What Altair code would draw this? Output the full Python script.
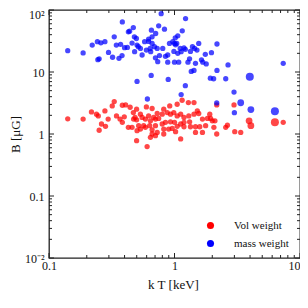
import altair as alt
import pandas as pd

# ---- data (kT in keV, B in microGauss) ----
vol_kT = [0.141, 0.187, 0.218, 0.239, 0.247, 0.279, 0.296, 0.262, 0.282, 0.251,
          0.319, 0.331, 0.345, 0.368, 0.384, 0.398, 0.384, 0.408, 0.443, 0.429,
          0.470, 0.485, 0.499, 0.499, 0.499, 0.605, 0.597, 0.663, 0.728, 0.821,
          0.916, 1.05, 1.15, 1.29, 1.43, 1.52, 1.56, 1.91, 0.535, 0.552,
          0.586, 0.622, 0.643, 0.682, 0.705, 0.748, 0.798, 0.875, 0.929, 0.987,
          1.05, 1.12, 1.19, 1.30, 1.43, 0.472, 0.518, 0.568, 0.634, 0.705,
          0.798, 0.847, 0.929, 1.00, 1.12, 1.19, 1.32, 1.67, 1.83, 1.94,
          2.10, 0.663, 0.728, 0.821, 0.899, 0.959, 1.02, 1.05, 1.19, 1.34,
          1.47, 1.59, 1.77, 0.459, 0.503, 0.535, 0.586, 0.663, 0.705, 0.643,
          0.821, 1.47, 1.67, 1.12, 2.98, 2.17, 2.00, 2.64, 2.56, 2.06,
          2.17, 3.02, 3.37, 7.35, 3.93, 4.06, 6.31]
vol_B = [1.76, 1.74, 2.27, 2.09, 1.96, 2.36, 1.74, 1.45, 1.33, 1.15,
         2.84, 3.34, 1.96, 1.74, 1.54, 1.89, 2.91, 2.94, 2.70, 1.28,
         2.22, 1.85, 1.69, 2.51, 0.78, 0.627, 2.73, 2.58, 2.14, 2.51,
         2.84, 3.02, 3.50, 3.21, 3.21, 2.36, 2.14, 2.09, 2.09, 1.85,
         1.74, 1.96, 1.63, 1.85, 1.74, 1.78, 2.09, 2.22, 2.09, 2.22,
         1.96, 2.09, 1.85, 1.96, 2.09, 1.74, 1.36, 1.36, 1.36, 1.36,
         1.45, 1.54, 1.57, 1.54, 1.45, 1.54, 1.57, 1.74, 1.78, 1.78,
         1.63, 1.17, 1.06, 1.20, 1.20, 1.23, 1.09, 1.33, 1.31, 1.31,
         1.31, 1.31, 1.36, 1.28, 1.13, 1.20, 1.28, 1.00, 0.94, 0.885,
         1.00, 1.06, 1.06, 0.832, 2.94, 2.94, 1.63, 1.39, 1.28, 1.28,
         1.00, 1.09, 1.06, 1.54, 1.63, 1.36, 1.54]
vol_weight = [1] * (len(vol_kT) - 3) + [2, 2, 3]

mass_kT = [0.141, 0.187, 0.221, 0.243, 0.259, 0.279, 0.251, 0.245, 0.298, 0.321,
           0.331, 0.344, 0.361, 0.372, 0.384, 0.382, 0.400, 0.421, 0.429, 0.439,
           0.470, 0.479, 0.497, 0.481, 0.503, 0.515, 0.535, 0.552, 0.578, 0.597,
           0.622, 0.640, 0.655, 0.663, 0.663, 0.646, 0.503, 0.608, 0.652,
           0.783, 1.225, 0.748, 0.832, 1.153, 0.708, 1.062, 1.014, 0.969, 0.912,
           1.00, 1.042, 2.18, 1.11, 1.22, 1.39, 1.445, 1.51, 1.56, 0.692,
           0.728, 0.806, 0.883, 0.759, 1.062, 1.13, 1.318, 1.76, 1.97, 1.64,
           1.47, 1.68, 1.79, 1.36, 1.43, 2.18, 2.67, 1.00, 1.08, 0.883,
           0.735, 1.28, 0.891, 1.93, 2.05, 2.56, 7.35, 1.22, 1.13, 2.98,
           2.17, 3.00, 0.989, 1.34, 0.705, 0.847, 0.622, 0.459, 1.19, 1.02,
           3.37, 4.06, 3.98, 6.31]
mass_B = [22.1, 20.3, 27.2, 30.8, 29.6, 30.8, 16.3, 15.8, 20.7, 17.3,
          37.0, 27.2, 16.6, 27.9, 64.3, 18.4, 24.7, 24.9, 44.5, 45.6,
          52.1, 37.0, 34.7, 21.3, 27.2, 25.6, 24.0, 18.8, 30.8, 22.6,
          34.0, 24.0, 47.3, 37.0, 28.9, 21.3, 7.05, 3.67, 8.79,
          87.3, 72.6, 55.5, 49.1, 46.1, 41.8, 38.4, 35.6, 30.8, 28.9,
          28.9, 28.9, 28.3, 24.0, 23.2, 25.6, 24.0, 22.6, 28.9, 25.6,
          24.0, 24.0, 18.8, 18.4, 20.0, 21.3, 16.3, 19.3, 20.5, 15.7,
          13.8, 14.4, 13.5, 10.2, 10.6, 10.6, 13.0, 14.4, 14.4, 14.4,
          14.7, 14.4, 7.59, 7.96, 7.78, 7.78, 13.8, 6.01, 4.32, 4.75,
          3.17, 2.21, 21.5, 21.5, 16.9, 17.9, 31.1, 29.3, 24.4, 27.5,
          3.19, 2.48, 8.38, 2.33]
mass_weight = [1] * (len(mass_kT) - 4) + [2, 2, 3, 3]

series_names = ["Vol weight", "mass weight"]
series_colors = ["#ff0000", "#0000ff"]

x_ticks = [0.1, 1, 10]
x_tick_labels = ["0.1", "1", "10"]
x_minor = [0.2, 0.3, 0.4, 0.5, 0.6, 0.7, 0.8, 0.9, 2, 3, 4, 5, 6, 7, 8, 9]
y_ticks = [0.01, 0.1, 1, 10, 100]
y_tick_labels = ["10\u207b\u00b2", "0.1", "1", "10", "10\u00b2"]
y_minor = [0.02, 0.03, 0.04, 0.05, 0.06, 0.07, 0.08, 0.09,
           0.2, 0.3, 0.4, 0.5, 0.6, 0.7, 0.8, 0.9,
           2, 3, 4, 5, 6, 7, 8, 9,
           20, 30, 40, 50, 60, 70, 80, 90]

x_title = "k T [keV]"
y_title = "B [\u03bcG]"

# ---- layout / style ----
W, H = 251, 248
FONT = "Liberation Serif"
INK = "#222222"

df = pd.DataFrame({
    "kT": vol_kT + mass_kT,
    "B": vol_B + mass_B,
    "weight": vol_weight + mass_weight,
    "series": [series_names[0]] * len(vol_kT) + [series_names[1]] * len(mass_kT),
})


def label_expr(values, labels):
    parts = [f"abs(datum.value - {v}) < {v * 0.01} ? '{lab}'" for v, lab in zip(values, labels)]
    return " : ".join(parts) + " : ''"


xscale = alt.Scale(type="log", domain=[0.1, 10], nice=False)
yscale = alt.Scale(type="log", domain=[0.01, 100], nice=False)

xaxis = alt.Axis(values=x_ticks, labelExpr=label_expr(x_ticks, x_tick_labels),
                 tickSize=0, domain=False, grid=False, labelFlush=False, labelOverlap=False,
                 labelAlign={"condition": {"test": f"datum.value >= {x_ticks[-1] * 0.99}",
                                           "value": "right"},
                             "value": "center"},
                 labelFont=FONT, labelFontSize=12, labelPadding=2, labelColor="#111",
                 titleFont=FONT, titleFontSize=13, titleFontWeight="normal", titleColor="#111",
                 titleX=124, titleY=26, titleBaseline="middle")
yaxis = alt.Axis(values=y_ticks, labelExpr=label_expr(y_ticks, y_tick_labels),
                 tickSize=0, domain=False, grid=False, labelFlush=False, labelOverlap=False,
                 labelOffset={"condition": {"test": f"datum.value >= {y_ticks[-1] * 0.99}",
                                            "value": 4},
                              "value": 0},
                 labelFont=FONT, labelFontSize=12, labelPadding=5, labelColor="#111",
                 titleFont=FONT, titleFontSize=13, titleFontWeight="normal", titleColor="#111",
                 titleX=-34, titleY=H / 2, titleBaseline="middle", titleAngle=270)


def X(field):
    return alt.X(field, type="quantitative", scale=xscale, axis=xaxis, title=x_title)


def Y(field):
    return alt.Y(field, type="quantitative", scale=yscale, axis=yaxis, title=y_title)


points = alt.Chart(df).mark_circle(opacity=0.72).encode(
    x=X("kT"),
    y=Y("B"),
    color=alt.Color("series:N", sort=series_names,
                    scale=alt.Scale(domain=series_names, range=series_colors),
                    legend=alt.Legend(title=None, orient="none", legendX=156, legendY=210,
                                      symbolType="circle", symbolSize=50, symbolOpacity=1,
                                      symbolStrokeWidth=0, labelFont=FONT, labelFontSize=11,
                                      labelColor="#111", labelOffset=18, rowPadding=6,
                                      padding=0)),
    size=alt.Size("weight:Q", scale=alt.Scale(domain=[1, 3], range=[28, 64]), legend=None),
)


def xtick_layer(vals, length):
    d = pd.DataFrame({"v": vals})
    base = alt.Chart(d).mark_rule(color=INK, strokeWidth=1)
    bottom = base.encode(x=X("v"), y=alt.value(H), y2=alt.value(H - length))
    top = base.encode(x=X("v"), y=alt.value(0), y2=alt.value(length))
    return [bottom, top]


def ytick_layer(vals, length):
    d = pd.DataFrame({"v": vals})
    base = alt.Chart(d).mark_rule(color=INK, strokeWidth=1)
    left = base.encode(y=Y("v"), x=alt.value(0), x2=alt.value(length))
    right = base.encode(y=Y("v"), x=alt.value(W), x2=alt.value(W - length))
    return [left, right]


layers = (xtick_layer(x_ticks, 5) + xtick_layer(x_minor, 3)
          + ytick_layer(y_ticks, 5) + ytick_layer(y_minor, 3) + [points])

chart = alt.layer(*layers).properties(
    width=W, height=H,
    autosize=alt.AutoSizeParams(type="none"),
    padding={"left": 41, "top": 2, "right": 0, "bottom": 34},
).configure_view(stroke=INK, strokeWidth=1.3)

chart.save("out.html", embed_options={"renderer": "svg", "actions": False})
